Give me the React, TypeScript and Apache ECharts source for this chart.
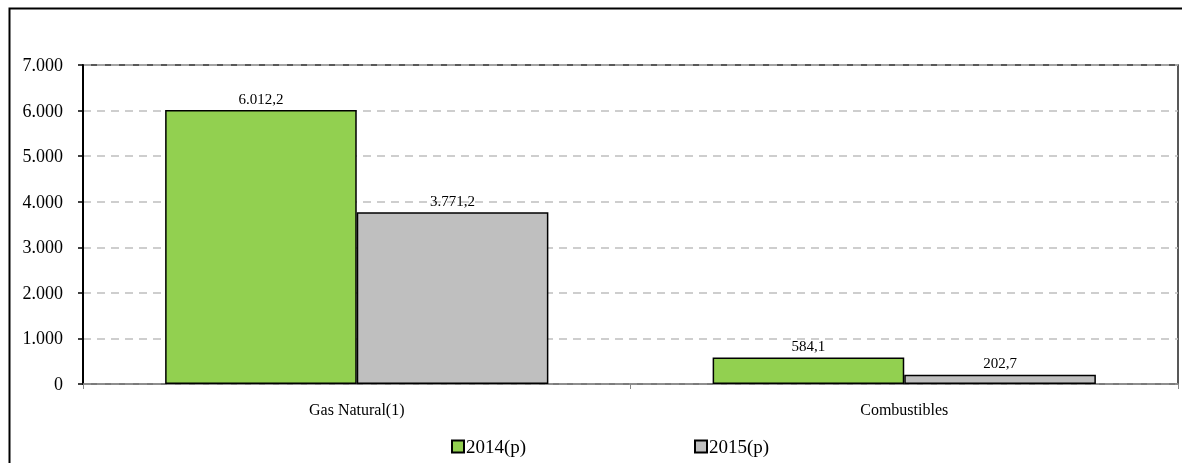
import React, { useEffect, useRef } from "react";
import * as echarts from "echarts";

const categories = ["Gas Natural(1)", "Combustibles"];
const series2014 = [6012.2, 584.1];
const series2015 = [3771.2, 202.7];
const seriesNames = ["2014(p)", "2015(p)"];
const yTicks = [0, 1000, 2000, 3000, 4000, 5000, 6000, 7000];

const fmtThousands = (v: number) => {
  const s = Math.round(v).toString();
  return s.replace(/\B(?=(\d{3})+(?!\d))/g, ".");
};
const fmtValue = (v: number) => {
  const [i, d] = v.toFixed(1).split(".");
  return i.replace(/\B(?=(\d{3})+(?!\d))/g, ".") + "," + d;
};

const FONT = "'Liberation Serif', 'DejaVu Serif', serif";

export default function App() {
  const ref = useRef<HTMLDivElement>(null);
  useEffect(() => {
    if (!ref.current) return;
    const chart = echarts.init(ref.current, null, { renderer: "svg" });
    const legendText = { fontFamily: FONT, fontSize: 19, color: "#000", padding: [0, 0, 0, -3] };
    const labelCfg = {
      show: true,
      position: "top",
      distance: 4,
      fontFamily: FONT,
      fontSize: 15,
      color: "#000",
      formatter: (p: any) => fmtValue(p.value),
    };
    chart.setOption({
      animation: false,
      textStyle: { fontFamily: FONT },
      graphic: [
        {
          type: "rect",
          shape: { x: 9.5, y: 8.5, width: 1300, height: 1000 },
          style: { fill: "none", stroke: "#000", lineWidth: 2 },
          silent: true,
        },
      ],
      grid: {
        left: 83,
        top: 65,
        right: 4,
        bottom: 79,
        show: true,
        borderColor: "#222",
        borderWidth: 1.5,
      },
      legend: [
        {
          data: [{ name: seriesNames[0], icon: "rect" }],
          left: 446,
          top: 432,
          itemWidth: 12,
          itemHeight: 12,
          itemGap: 4,
          textStyle: legendText,
        },
        {
          data: [{ name: seriesNames[1], icon: "rect" }],
          left: 689,
          top: 432,
          itemWidth: 12,
          itemHeight: 12,
          itemGap: 4,
          textStyle: legendText,
        },
      ],
      xAxis: {
        type: "category",
        data: categories,
        axisLine: { show: true, lineStyle: { color: "#888", width: 1.5 } },
        axisTick: { show: true, length: 5, lineStyle: { color: "#888" } },
        axisLabel: { fontFamily: FONT, fontSize: 16, color: "#000", margin: 17 },
      },
      yAxis: {
        type: "value",
        min: 0,
        max: 7000,
        interval: 1000,
        axisLine: { show: true, lineStyle: { color: "#000", width: 2 } },
        axisTick: { show: true, length: 5, lineStyle: { color: "#000", width: 1.5 } },
        axisLabel: {
          fontFamily: FONT,
          fontSize: 18,
          color: "#000",
          margin: 20,
          formatter: (v: number) => (yTicks.includes(v) ? fmtThousands(v) : ""),
        },
        splitLine: { show: true, lineStyle: { color: "#bfbfbf", type: [8, 6], width: 1.5 } },
      },
      series: [
        {
          name: seriesNames[0],
          type: "bar",
          data: series2014,
          barGap: "0%",
          barCategoryGap: "30%",
          itemStyle: { color: "#92d050", borderColor: "#000", borderWidth: 1.5 },
          label: labelCfg,
        },
        {
          name: seriesNames[1],
          type: "bar",
          data: series2015,
          itemStyle: { color: "#bfbfbf", borderColor: "#000", borderWidth: 1.5 },
          label: labelCfg,
        },
      ],
    });
    return () => chart.dispose();
  }, []);
  return (
    <div
      ref={ref}
      style={{ position: "fixed", left: 0, top: 0, width: 1182, height: 463 }}
    />
  );
}
